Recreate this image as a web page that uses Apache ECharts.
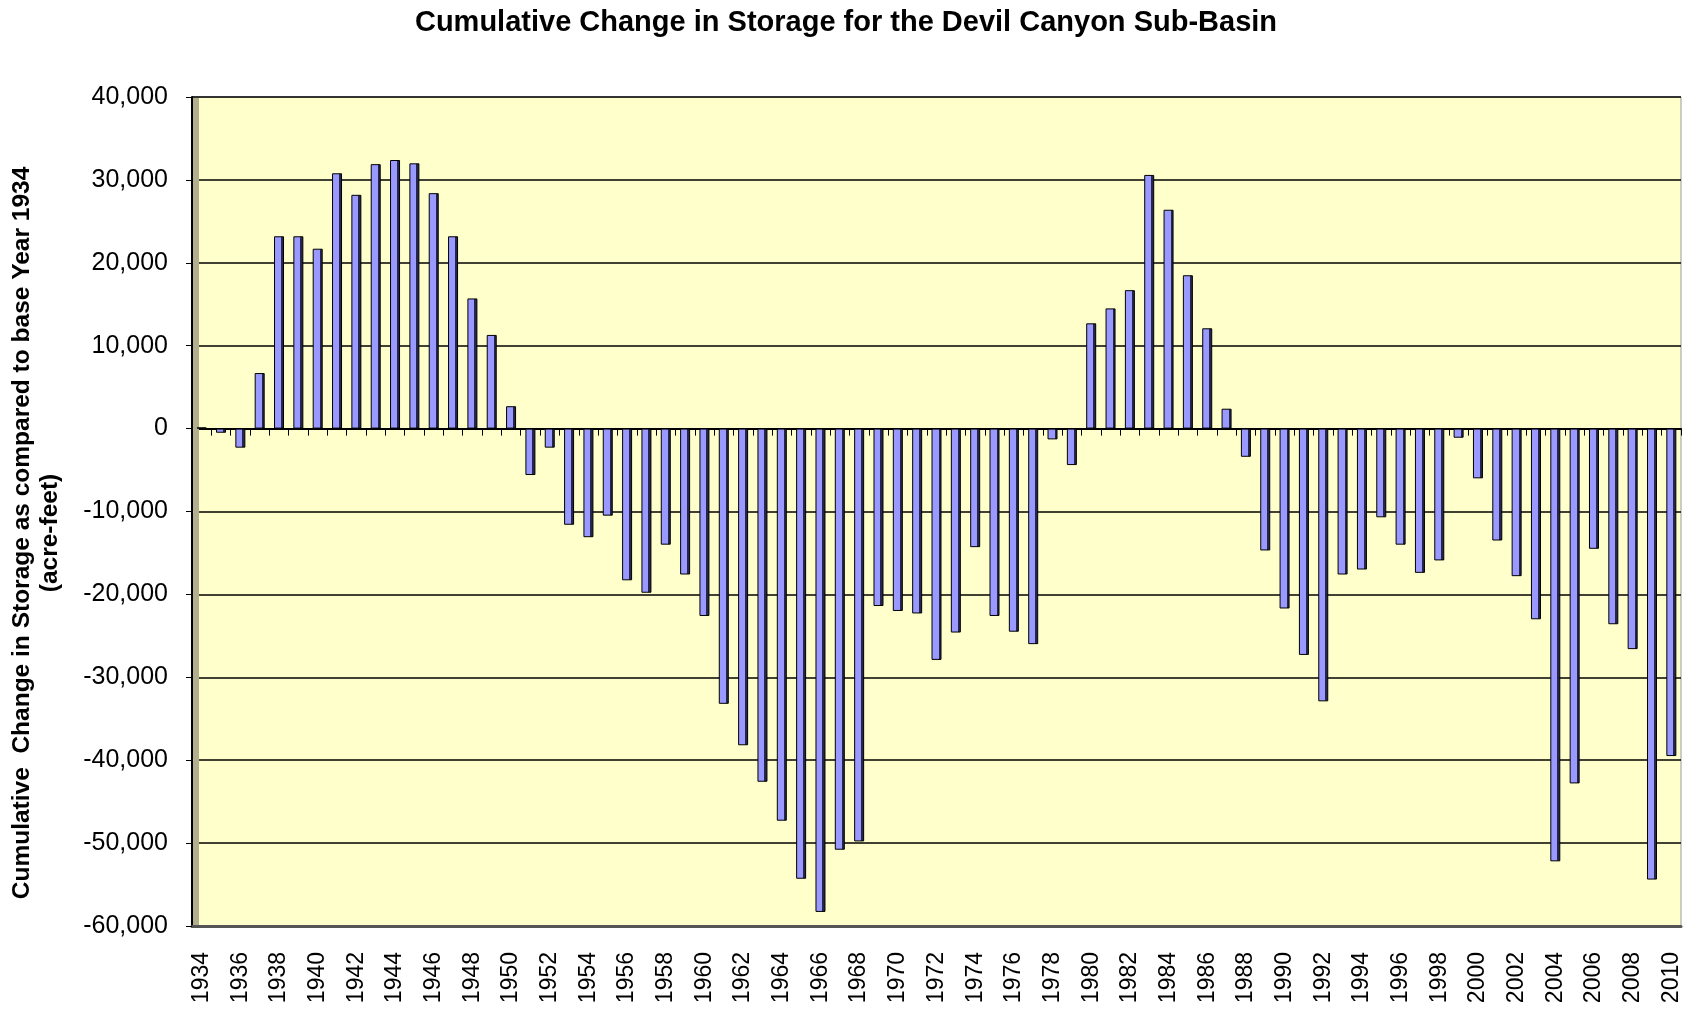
<!DOCTYPE html>
<html lang="en">

<head>
    <meta charset="UTF-8">
    <title>Cumulative Change in Storage - Devil Canyon</title>
    <style>
        html, body { margin: 0; padding: 0; background: #fff; }
        #chart { width: 1692px; height: 1013px; }
    </style>
</head>

<body>
    <div id="chart"></div>

    <script src="https://cdn.jsdelivr.net/npm/echarts@6/dist/echarts.min.js"></script>
    <script>
        // years on the x axis (1934 - 2010)
        var years = ['1934', '1935', '1936', '1937', '1938', '1939', '1940', '1941', '1942', '1943',
            '1944', '1945', '1946', '1947', '1948', '1949', '1950', '1951', '1952', '1953',
            '1954', '1955', '1956', '1957', '1958', '1959', '1960', '1961', '1962', '1963',
            '1964', '1965', '1966', '1967', '1968', '1969', '1970', '1971', '1972', '1973',
            '1974', '1975', '1976', '1977', '1978', '1979', '1980', '1981', '1982', '1983',
            '1984', '1985', '1986', '1987', '1988', '1989', '1990', '1991', '1992', '1993',
            '1994', '1995', '1996', '1997', '1998', '1999', '2000', '2001', '2002', '2003',
            '2004', '2005', '2006', '2007', '2008', '2009', '2010'];

        // cumulative change in storage (acre-feet)
        var storage = [150, -500, -2300, 6700, 23200, 23200, 21700, 30800, 28200, 31900,
            32400, 32000, 28400, 23200, 15700, 11300, 2700, -5600, -2300, -11600,
            -13100, -10500, -18300, -19800, -14000, -17600, -22600, -33200, -38200, -42600,
            -47300, -54300, -58300, -50800, -49800, -21400, -22000, -22300, -27900, -24600,
            -14300, -22600, -24500, -26000, -1300, -4400, 12700, 14500, 16700, 30600,
            26400, 18500, 12100, 2400, -3400, -14700, -21700, -27300, -32900, -17600,
            -17000, -10700, -14000, -17400, -15900, -1100, -6000, -13500, -17800, -23000,
            -52200, -42800, -14500, -23600, -26600, -54400, -39500];

        // value axis
        var yMin = -60000;
        var yMax = 40000;
        var yStep = 10000;

        var chart = echarts.init(document.getElementById('chart'));

        function thousands(v) {
            var s = Math.abs(v).toString().replace(/\B(?=(\d{3})+(?!\d))/g, ',');
            return (v < 0 ? '-' : '') + s;
        }

        // flat front face + dark side face, like the old excel 3d columns
        var barColor = new echarts.graphic.LinearGradient(0, 0, 1, 0, [
            { offset: 0, color: '#9999FF' },
            { offset: 0.7, color: '#9999FF' },
            { offset: 0.7, color: '#26264d' },
            { offset: 1, color: '#26264d' }
        ]);

        var option = {
            animation: false,
            textStyle: { fontFamily: 'Liberation Sans, Arial, sans-serif' },
            title: {
                text: 'Cumulative Change in Storage for the Devil Canyon Sub-Basin',
                left: 'center',
                top: 3,
                textStyle: {
                    fontSize: 29,
                    fontWeight: 'bold',
                    color: '#000',
                    fontFamily: 'Liberation Sans, Arial, sans-serif'
                }
            },
            graphic: [{
                // left side wall of the 3d plot
                type: 'rect',
                shape: { x: 193, y: 98, width: 6, height: 827 },
                style: { fill: '#b3af8e' },
                z: 1
            }, {
                type: 'text',
                x: 36,
                y: 533,
                rotation: Math.PI / 2,
                style: {
                    text: 'Cumulative  Change in Storage as compared to base Year 1934\n(acre-feet)',
                    fontSize: 24.5,
                    fontWeight: 'bold',
                    fontFamily: 'Liberation Sans, Arial, sans-serif',
                    lineHeight: 28,
                    fill: '#000',
                    align: 'center',
                    verticalAlign: 'middle'
                }
            }],
            grid: {
                left: 192,
                right: 11,
                top: 97,
                bottom: 87,
                show: true,
                backgroundColor: '#FFFFCC',
                borderColor: '#9a9a9a',
                borderWidth: 1
            },
            xAxis: [{
                // axis drawn through zero, ticks only
                type: 'category',
                data: years,
                axisLine: { onZero: true, lineStyle: { color: '#000', width: 2 } },
                axisTick: { show: true, interval: 0, length: 7, inside: false, lineStyle: { color: '#000', width: 1 } },
                axisLabel: { show: false },
                splitLine: { show: false }
            }, {
                // floor of the plot carrying the year labels
                type: 'category',
                data: years,
                position: 'bottom',
                axisLine: { onZero: false, lineStyle: { color: '#555', width: 3 } },
                axisTick: { show: false },
                axisLabel: {
                    interval: 1,
                    rotate: 90,
                    margin: 26,
                    fontSize: 23,
                    color: '#000'
                }
            }],
            yAxis: {
                type: 'value',
                min: yMin,
                max: yMax,
                interval: yStep,
                axisLine: { show: true, lineStyle: { color: '#000', width: 2 } },
                axisTick: { show: true, length: 6, lineStyle: { color: '#000' } },
                axisLabel: {
                    fontSize: 25,
                    color: '#000',
                    margin: 24,
                    formatter: thousands
                },
                splitLine: { show: true, lineStyle: { color: '#000', width: 1.6 } }
            },
            series: [{
                type: 'bar',
                xAxisIndex: 0,
                data: storage,
                barWidth: 10,
                itemStyle: {
                    color: barColor,
                    borderColor: '#000',
                    borderWidth: 1
                }
            }]
        };

        chart.setOption(option);
    </script>
</body>

</html>
